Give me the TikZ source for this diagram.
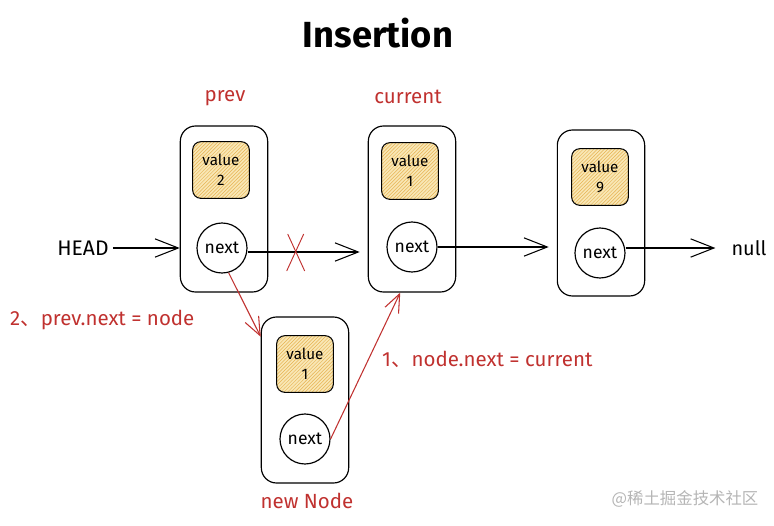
\documentclass[tikz,border=0pt]{standalone}
\usepackage{fontspec}
\setmainfont{Fira Sans}
\newfontfamily\cjk{Noto Sans CJK SC}
\usetikzlibrary{arrows.meta, positioning, calc, patterns}
\definecolor{inkred}{HTML}{C0312F}
\definecolor{valfill}{HTML}{F9E7B5}
\definecolor{hatch}{HTML}{E6B352}
\definecolor{mark}{HTML}{B5B5B5}
\tikzset{
	listnode/.style={rectangle, draw, line width=1pt, rounded corners=13pt, minimum width=2.62cm, minimum height=4.98cm},
	valuebox/.style={rectangle, draw, line width=0.9pt, rounded corners=7pt, align=center, minimum width=1.7cm, minimum height=1.7cm,
		preaction={fill=valfill}, pattern=north east lines, pattern color=hatch, font=\fontsize{13}{17}\selectfont},
	nextptr/.style={circle, draw, line width=1pt, minimum size=1.5cm, inner sep=0pt, font=\fontsize{15}{17}\selectfont},
	redlabel/.style={text=inkred, font=\fontsize{17.5}{20}\selectfont},
	arr/.style={-{Straight Barb[length=7mm, width=5.5mm, line width=0.9pt]}, line width=0.9pt},
	redarr/.style={-{Straight Barb[length=5.5mm, width=4.5mm, line width=0.9pt]}, line width=0.9pt, draw=inkred}
}
\begin{document}
\begin{tikzpicture}[x=0.03cm, y=-0.03cm]
        \useasboundingbox (0,0) rectangle (774,525);
        \node[font=\bfseries\fontsize{31}{33}\selectfont] (title) at (378, 33) {Insertion};

        \node[listnode] (prev) at (224, 209) {};
        \node[listnode] (cur) at (412, 209) {};
        \node[listnode] (last) at (601, 213) {};
        \node[listnode] (new) at (305, 400) {};

        \node[valuebox] (prevval) at (221, 170) {value\\2};
        \node[valuebox] (curval) at (410, 171) {value\\1};
        \node[valuebox] (lastval) at (600, 177) {value\\9};
        \node[valuebox] (newval) at (305, 364) {value\\1};

        \node[nextptr] (prevnext) at (222, 248) {next};
        \node[nextptr] (curnext) at (412, 247) {next};
        \node[nextptr] (lastnext) at (600, 253) {next};
        \node[nextptr] (newnext) at (305, 439) {next};

        \node[redlabel] (prevlbl) at (225, 98) {prev};
        \node[redlabel] (curlbl) at (408, 97) {current};
        \node[redlabel] (newlbl) at (307, 501) {new Node};
        \node[redlabel, anchor=west] (step2) at (6, 320) {2{\cjk 、}prev.next = node};
        \node[redlabel, anchor=west] (step1) at (378, 359) {1{\cjk 、}node.next = current};

        \node[font=\fontsize{18}{20}\selectfont] (head) at (83, 248) {HEAD};
        \node[font=\fontsize{17}{19}\selectfont] (null) at (749, 248) {null};
        \node[text=mark, font=\cjk\fontsize{14}{16}\selectfont] (wm) at (685, 499) {@稀土掘金技术社区};

        \draw[arr] (head) -- (head -| prev.west);
        \draw[arr] ($(prevnext.east)+(0,4)$) -- coordinate[pos=0.42] (cut) ($(prevnext.east -| cur.west)+(-8,4)$);
        \draw[arr] (curnext) -- ($(curnext -| last.west)+(-8,0)$);
        \draw[arr] ($(lastnext.east)+(0,-5)$) -- ($(null.west)+(-12,0)$);

        \draw[inkred, line width=0.8pt] ($(cut)+(-7,-18)$) -- ($(cut)+(10,19)$);
        \draw[inkred, line width=0.8pt] ($(cut)+(9,-18)$) -- ($(cut)+(-8,19)$);

        \draw[redarr] (prevnext.-75) -- (new.125);
        \draw[redarr] (newnext.east) -- (cur.262);
    \end{tikzpicture}
\end{document}
